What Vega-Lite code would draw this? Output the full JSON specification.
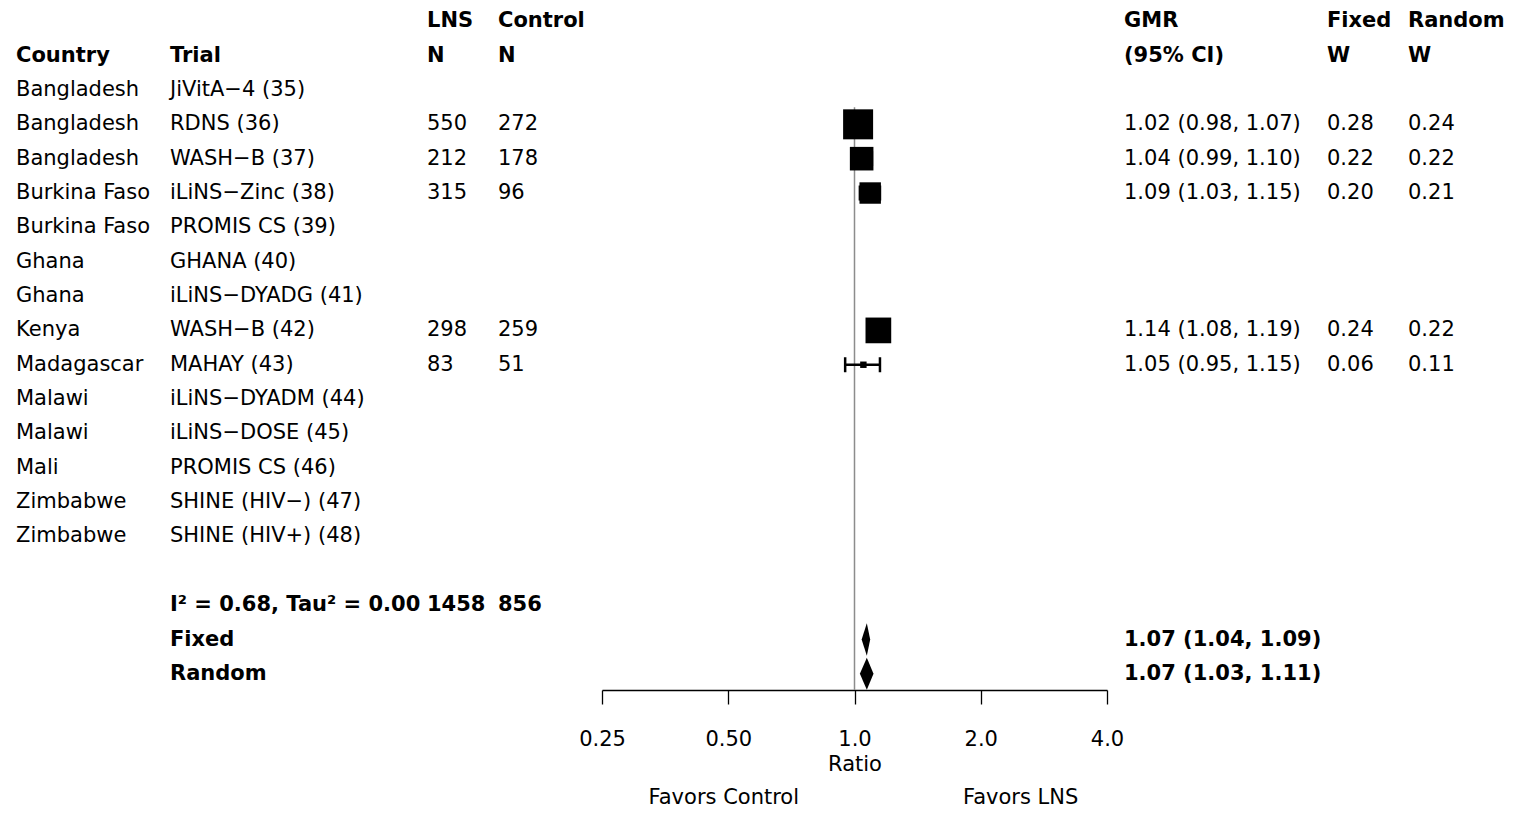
{
  "$schema": "https://vega.github.io/schema/vega-lite/v6.json",
  "padding": {"left": 16, "top": 0, "right": 0, "bottom": 0},
  "background": "white",
  "bounds": "flush",
  "spacing": 17,
  "config": {
    "view": {"stroke": null},
    "text": {"font": "DejaVu Sans", "fontSize": 21, "color": "black", "align": "left", "baseline": "middle"}
  },
  "datasets": {
    "rows": [
      {"row": 1, "kind": "header", "lns": "LNS", "control": "Control", "ci": "GMR", "wf": "Fixed", "wr": "Random"},
      {"row": 2, "kind": "header", "country": "Country", "trial": "Trial", "lns": "N", "control": "N", "ci": "(95% CI)", "wf": "W", "wr": "W"},
      {"row": 3, "kind": "study", "country": "Bangladesh", "trial": "JiVitA−4 (35)"},
      {"row": 4, "kind": "study", "country": "Bangladesh", "trial": "RDNS (36)", "lns": "550", "control": "272", "ci": "1.02 (0.98, 1.07)", "wf": "0.28", "wr": "0.24", "est": 1.02, "lo": 0.98, "hi": 1.07, "w": 0.28},
      {"row": 5, "kind": "study", "country": "Bangladesh", "trial": "WASH−B (37)", "lns": "212", "control": "178", "ci": "1.04 (0.99, 1.10)", "wf": "0.22", "wr": "0.22", "est": 1.04, "lo": 0.99, "hi": 1.10, "w": 0.22},
      {"row": 6, "kind": "study", "country": "Burkina Faso", "trial": "iLiNS−Zinc (38)", "lns": "315", "control": "96", "ci": "1.09 (1.03, 1.15)", "wf": "0.20", "wr": "0.21", "est": 1.09, "lo": 1.03, "hi": 1.15, "w": 0.20},
      {"row": 7, "kind": "study", "country": "Burkina Faso", "trial": "PROMIS CS (39)"},
      {"row": 8, "kind": "study", "country": "Ghana", "trial": "GHANA (40)"},
      {"row": 9, "kind": "study", "country": "Ghana", "trial": "iLiNS−DYADG (41)"},
      {"row": 10, "kind": "study", "country": "Kenya", "trial": "WASH−B (42)", "lns": "298", "control": "259", "ci": "1.14 (1.08, 1.19)", "wf": "0.24", "wr": "0.22", "est": 1.14, "lo": 1.08, "hi": 1.19, "w": 0.24},
      {"row": 11, "kind": "study", "country": "Madagascar", "trial": "MAHAY (43)", "lns": "83", "control": "51", "ci": "1.05 (0.95, 1.15)", "wf": "0.06", "wr": "0.11", "est": 1.05, "lo": 0.95, "hi": 1.15, "w": 0.06},
      {"row": 12, "kind": "study", "country": "Malawi", "trial": "iLiNS−DYADM (44)"},
      {"row": 13, "kind": "study", "country": "Malawi", "trial": "iLiNS−DOSE (45)"},
      {"row": 14, "kind": "study", "country": "Mali", "trial": "PROMIS CS (46)"},
      {"row": 15, "kind": "study", "country": "Zimbabwe", "trial": "SHINE (HIV−) (47)"},
      {"row": 16, "kind": "study", "country": "Zimbabwe", "trial": "SHINE (HIV+) (48)"},
      {"row": 18, "kind": "summary", "trial": "I² = 0.68, Tau² = 0.00", "lns": "1458", "control": "856"},
      {"row": 19, "kind": "summary", "trial": "Fixed", "ci": "1.07 (1.04, 1.09)"},
      {"row": 20, "kind": "summary", "trial": "Random", "ci": "1.07 (1.03, 1.11)"}
    ],
    "refline": [{"ratio": 1, "from": 3.5, "to": 20.47}],
    "diamonds": [
      {"model": "Fixed", "row": 18.53, "left": 1.07, "right": 1.07},
      {"model": "Fixed", "row": 19.0, "left": 1.04, "right": 1.09},
      {"model": "Fixed", "row": 19.47, "left": 1.07, "right": 1.07},
      {"model": "Random", "row": 19.53, "left": 1.07, "right": 1.07},
      {"model": "Random", "row": 20.0, "left": 1.03, "right": 1.11},
      {"model": "Random", "row": 20.46, "left": 1.07, "right": 1.07}
    ],
    "favors": [
      {"label": "Favors Control", "at": 0.488, "row": 23.6},
      {"label": "Favors LNS", "at": 2.49, "row": 23.6}
    ]
  },
  "hconcat": [
    {
      "width": 137, "height": 690,
      "data": {"name": "rows"},
      "transform": [{"filter": "isValid(datum.country)"}],
      "encoding": {"x": {"value": 0}, "y": {"field": "row", "type": "quantitative", "scale": {"domain": [0.38, 20.47], "reverse": true, "zero": false, "nice": false}, "axis": null}, "text": {"field": "country"}},
      "layer": [
        {"transform": [{"filter": "datum.kind != 'study'"}], "mark": {"type": "text", "fontWeight": "bold"}},
        {"transform": [{"filter": "datum.kind == 'study'"}], "mark": {"type": "text"}}
      ]
    },
    {
      "width": 240, "height": 690,
      "data": {"name": "rows"},
      "transform": [{"filter": "isValid(datum.trial)"}],
      "encoding": {"x": {"value": 0}, "y": {"field": "row", "type": "quantitative", "scale": {"domain": [0.38, 20.47], "reverse": true, "zero": false, "nice": false}, "axis": null}, "text": {"field": "trial"}},
      "layer": [
        {"transform": [{"filter": "datum.kind != 'study'"}], "mark": {"type": "text", "fontWeight": "bold"}},
        {"transform": [{"filter": "datum.kind == 'study'"}], "mark": {"type": "text"}}
      ]
    },
    {
      "width": 54, "height": 690,
      "data": {"name": "rows"},
      "transform": [{"filter": "isValid(datum.lns)"}],
      "encoding": {"x": {"value": 0}, "y": {"field": "row", "type": "quantitative", "scale": {"domain": [0.38, 20.47], "reverse": true, "zero": false, "nice": false}, "axis": null}, "text": {"field": "lns"}},
      "layer": [
        {"transform": [{"filter": "datum.kind != 'study'"}], "mark": {"type": "text", "fontWeight": "bold"}},
        {"transform": [{"filter": "datum.kind == 'study'"}], "mark": {"type": "text"}}
      ]
    },
    {
      "width": 87, "height": 690,
      "data": {"name": "rows"},
      "transform": [{"filter": "isValid(datum.control)"}],
      "encoding": {"x": {"value": 0}, "y": {"field": "row", "type": "quantitative", "scale": {"domain": [0.38, 20.47], "reverse": true, "zero": false, "nice": false}, "axis": null}, "text": {"field": "control"}},
      "layer": [
        {"transform": [{"filter": "datum.kind != 'study'"}], "mark": {"type": "text", "fontWeight": "bold"}},
        {"transform": [{"filter": "datum.kind == 'study'"}], "mark": {"type": "text"}}
      ]
    },
    {
      "width": 505, "height": 690,
      "encoding": {
        "y": {"field": "row", "type": "quantitative", "scale": {"domain": [0.38, 20.47], "reverse": true, "zero": false, "nice": false}, "axis": null}
      },
      "layer": [
        {
          "data": {"name": "refline"},
          "mark": {"type": "rule", "color": "#8c8c8c", "strokeWidth": 1.5},
          "encoding": {
            "x": {"field": "ratio", "type": "quantitative", "scale": {"type": "log", "base": 2, "domain": [0.25, 4], "nice": false},
              "axis": {"values": [0.25, 0.5, 1, 2, 4], "labelExpr": "datum.value == 0.25 ? '0.25' : datum.value == 0.5 ? '0.50' : format(datum.value, '.1f')", "title": "Ratio", "grid": false, "tickSize": 14, "tickColor": "black", "tickWidth": 1.3, "domainColor": "black", "domainWidth": 1.3, "labelColor": "black", "titleColor": "black", "labelFont": "DejaVu Sans", "labelFontSize": 21, "titleFont": "DejaVu Sans", "titleFontSize": 21, "titleFontWeight": "normal", "labelPadding": 24, "titlePadding": 4, "labelFlush": false, "labelOverlap": false}},
            "y": {"field": "from", "type": "quantitative", "scale": {"domain": [0.38, 20.47], "reverse": true, "zero": false, "nice": false}, "axis": null},
            "y2": {"field": "to"}
          }
        },
        {
          "data": {"name": "rows"},
          "transform": [{"filter": "isValid(datum.est)"}],
          "mark": {"type": "rule", "color": "black", "strokeWidth": 2.5},
          "encoding": {"x": {"field": "lo", "type": "quantitative"}, "x2": {"field": "hi"}}
        },
        {
          "data": {"name": "rows"},
          "transform": [{"filter": "isValid(datum.est)"}],
          "mark": {"type": "tick", "orient": "vertical", "size": 15, "thickness": 2.5, "color": "black", "opacity": 1},
          "encoding": {"x": {"field": "lo", "type": "quantitative"}}
        },
        {
          "data": {"name": "rows"},
          "transform": [{"filter": "isValid(datum.est)"}],
          "mark": {"type": "tick", "orient": "vertical", "size": 15, "thickness": 2.5, "color": "black", "opacity": 1},
          "encoding": {"x": {"field": "hi", "type": "quantitative"}}
        },
        {
          "data": {"name": "rows"},
          "transform": [{"filter": "isValid(datum.est)"}],
          "mark": {"type": "square", "filled": true, "color": "black", "opacity": 1},
          "encoding": {"x": {"field": "est", "type": "quantitative"},
            "size": {"field": "w", "type": "quantitative", "scale": {"type": "pow", "exponent": 2, "domain": [0, 0.28], "range": [0, 900]}, "legend": null}}
        },
        {
          "data": {"name": "diamonds"},
          "mark": {"type": "area", "orient": "horizontal", "color": "black", "opacity": 1},
          "encoding": {"x": {"field": "left", "type": "quantitative"}, "x2": {"field": "right"}, "detail": {"field": "model"}}
        },
        {
          "data": {"name": "favors"},
          "mark": {"type": "text", "align": "center"},
          "encoding": {"x": {"field": "at", "type": "quantitative"}, "text": {"field": "label"}}
        }
      ]
    },
    {
      "width": 186, "height": 690,
      "data": {"name": "rows"},
      "transform": [{"filter": "isValid(datum.ci)"}],
      "encoding": {"x": {"value": 0}, "y": {"field": "row", "type": "quantitative", "scale": {"domain": [0.38, 20.47], "reverse": true, "zero": false, "nice": false}, "axis": null}, "text": {"field": "ci"}},
      "layer": [
        {"transform": [{"filter": "datum.kind != 'study'"}], "mark": {"type": "text", "fontWeight": "bold"}},
        {"transform": [{"filter": "datum.kind == 'study'"}], "mark": {"type": "text"}}
      ]
    },
    {
      "width": 64, "height": 690,
      "data": {"name": "rows"},
      "transform": [{"filter": "isValid(datum.wf)"}],
      "encoding": {"x": {"value": 0}, "y": {"field": "row", "type": "quantitative", "scale": {"domain": [0.38, 20.47], "reverse": true, "zero": false, "nice": false}, "axis": null}, "text": {"field": "wf"}},
      "layer": [
        {"transform": [{"filter": "datum.kind != 'study'"}], "mark": {"type": "text", "fontWeight": "bold"}},
        {"transform": [{"filter": "datum.kind == 'study'"}], "mark": {"type": "text"}}
      ]
    },
    {
      "width": 100, "height": 690,
      "data": {"name": "rows"},
      "transform": [{"filter": "isValid(datum.wr)"}],
      "encoding": {"x": {"value": 0}, "y": {"field": "row", "type": "quantitative", "scale": {"domain": [0.38, 20.47], "reverse": true, "zero": false, "nice": false}, "axis": null}, "text": {"field": "wr"}},
      "layer": [
        {"transform": [{"filter": "datum.kind != 'study'"}], "mark": {"type": "text", "fontWeight": "bold"}},
        {"transform": [{"filter": "datum.kind == 'study'"}], "mark": {"type": "text"}}
      ]
    }
  ]
}
